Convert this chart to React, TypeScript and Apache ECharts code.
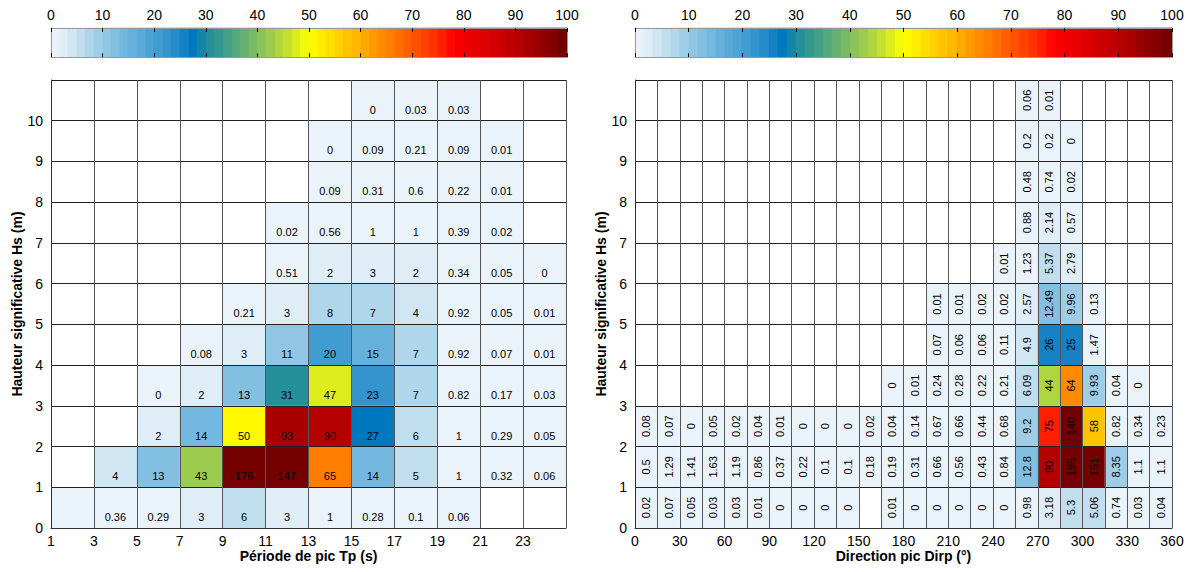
import React, { useEffect, useRef } from "react";
import * as echarts from "echarts";

const _ = null;

// ---------- bins ----------
const tpStarts = [1, 3, 5, 7, 9, 11, 13, 15, 17, 19, 21, 23];
const tpWidth = 2;
const dirStarts = [0, 15, 30, 45, 60, 75, 90, 105, 120, 135, 150, 165, 180, 195, 210, 225, 240, 255, 270, 285, 300, 315, 330, 345];
const dirWidth = 15;
const hsStarts = [0, 1, 2, 3, 4, 5, 6, 7, 8, 9, 10];
const colorbarTicks = [0, 10, 20, 30, 40, 50, 60, 70, 80, 90, 100];

// ---------- data: rows = Hs bins (0-1 first), columns = Tp bins ----------
const tpHsValues: (number | null)[][] = [
  [0.01, 0.36, 0.29, 3, 6, 3, 1, 0.28, 0.1, 0.06, _, _],
  [_, 4, 13, 43, 176, 147, 65, 14, 5, 1, 0.32, 0.06],
  [_, _, 2, 14, 50, 93, 90, 27, 6, 1, 0.29, 0.05],
  [_, _, 0, 2, 13, 31, 47, 23, 7, 0.82, 0.17, 0.03],
  [_, _, _, 0.08, 3, 11, 20, 15, 7, 0.92, 0.07, 0.01],
  [_, _, _, _, 0.21, 3, 8, 7, 4, 0.92, 0.05, 0.01],
  [_, _, _, _, _, 0.51, 2, 3, 2, 0.34, 0.05, 0],
  [_, _, _, _, _, 0.02, 0.56, 1, 1, 0.39, 0.02, _],
  [_, _, _, _, _, _, 0.09, 0.31, 0.6, 0.22, 0.01, _],
  [_, _, _, _, _, _, 0, 0.09, 0.21, 0.09, 0.01, _],
  [_, _, _, _, _, _, _, 0, 0.03, 0.03, _, _],
];
// cells drawn without a printed value: [column, row]
const tpUnlabeled = [[0, 0]];

// rows = Hs bins, columns = direction bins
const dirHsValues: (number | null)[][] = [
  [0.02, 0.07, 0.05, 0.03, 0.03, 0.01, 0, 0, 0, 0, _, 0.01, 0, 0, 0, 0, 0, 0.98, 3.18, 5.3, 5.06, 0.74, 0.03, 0.04],
  [0.5, 1.29, 1.41, 1.63, 1.19, 0.86, 0.37, 0.22, 0.1, 0.1, 0.18, 0.19, 0.31, 0.66, 0.56, 0.43, 0.84, 12.8, 90, 195, 151, 8.35, 1.1, 1.1],
  [0.08, 0.07, 0, 0.05, 0.02, 0.04, 0.01, 0, 0, 0, 0.02, 0.04, 0.14, 0.67, 0.66, 0.44, 0.68, 9.2, 75, 140, 58, 0.82, 0.34, 0.23],
  [_, _, _, _, _, _, _, _, _, _, _, 0, 0.01, 0.24, 0.28, 0.22, 0.21, 6.09, 44, 64, 9.93, 0.04, 0, _],
  [_, _, _, _, _, _, _, _, _, _, _, _, _, 0.07, 0.06, 0.06, 0.11, 4.9, 26, 25, 1.47, _, _, _],
  [_, _, _, _, _, _, _, _, _, _, _, _, _, 0.01, 0.01, 0.02, 0.02, 2.57, 12.49, 9.96, 0.13, _, _, _],
  [_, _, _, _, _, _, _, _, _, _, _, _, _, _, _, _, 0.01, 1.23, 5.37, 2.79, _, _, _, _],
  [_, _, _, _, _, _, _, _, _, _, _, _, _, _, _, _, _, 0.88, 2.14, 0.57, _, _, _, _],
  [_, _, _, _, _, _, _, _, _, _, _, _, _, _, _, _, _, 0.48, 0.74, 0.02, _, _, _, _],
  [_, _, _, _, _, _, _, _, _, _, _, _, _, _, _, _, _, 0.2, 0.2, 0, _, _, _, _],
  [_, _, _, _, _, _, _, _, _, _, _, _, _, _, _, _, _, 0.06, 0.01, _, _, _, _, _],
];
const dirUnlabeled: number[][] = [];

// ---------- colour map ----------
const cmapStops: [number, string][] = [
  [0, "#eff6fa"],
  [2, "#e2eff7"],
  [5, "#c9e2f0"],
  [10, "#97c9e5"],
  [15, "#6cb4dd"],
  [20, "#48a0d3"],
  [25, "#1e87c8"],
  [27.5, "#0078c0"],
  [30, "#1d8c9e"],
  [35, "#4aa384"],
  [40, "#80bf60"],
  [45, "#b8d93a"],
  [50, "#ffff00"],
  [55, "#ffd800"],
  [60, "#ffb000"],
  [65, "#ff8500"],
  [70, "#ff5800"],
  [75, "#ff2a00"],
  [78, "#ff0000"],
  [85, "#d80000"],
  [90, "#bb0000"],
  [100, "#6e0000"],
];
const cmapLevels = 60;

function hexToRgb(h: string) {
  const n = parseInt(h.slice(1), 16);
  return [(n >> 16) & 255, (n >> 8) & 255, n & 255];
}
function interpColor(v: number) {
  if (v <= cmapStops[0][0]) return cmapStops[0][1];
  for (let i = 1; i < cmapStops.length; i++) {
    if (v <= cmapStops[i][0]) {
      const [v0, c0] = cmapStops[i - 1];
      const [v1, c1] = cmapStops[i];
      const t = (v - v0) / (v1 - v0);
      const a = hexToRgb(c0);
      const b = hexToRgb(c1);
      const m = a.map((x, k) => Math.round(x + (b[k] - x) * t));
      return `rgb(${m[0]},${m[1]},${m[2]})`;
    }
  }
  return cmapStops[cmapStops.length - 1][1];
}
function levelColor(v: number) {
  const idx = Math.max(0, Math.min(cmapLevels - 1, Math.floor((v / 100) * cmapLevels)));
  return interpColor(((idx + 0.5) * 100) / cmapLevels);
}

const FONT = '"Liberation Sans", Arial, Helvetica, sans-serif';

type Cell = { x0: number; y0: number; w: number; v: number; label: string };

function buildCells(values: (number | null)[][], starts: number[], width: number, unlabeled: number[][]): Cell[] {
  const cells: Cell[] = [];
  values.forEach((row, r) =>
    row.forEach((v, c) => {
      if (v === null) return;
      const hide = unlabeled.some(([cc, rr]) => cc === c && rr === r);
      cells.push({ x0: starts[c], y0: hsStarts[r], w: width, v, label: hide ? "" : String(v) });
    })
  );
  return cells;
}

function heatSeries(cells: Cell[], idx: number, rotated: boolean, labelPos: number) {
  return {
    type: "custom",
    xAxisIndex: idx,
    yAxisIndex: idx,
    z: 2,
    data: cells.map((c) => [c.x0, c.y0, c.v, c.w]),
    encode: { x: 0, y: 1 },
    renderItem: (params: any, api: any) => {
      const x0 = api.value(0);
      const y0 = api.value(1);
      const v = api.value(2);
      const w = api.value(3);
      const label = cells[params.dataIndex].label;
      const tl = api.coord([x0, y0 + 1]);
      const br = api.coord([x0 + w, y0]);
      const children: any[] = [
        {
          type: "rect",
          shape: { x: tl[0], y: tl[1], width: br[0] - tl[0], height: br[1] - tl[1] },
          style: { fill: levelColor(v), stroke: null },
        },
      ];
      if (label) {
        const p = api.coord([x0 + w / 2, y0 + labelPos]);
        children.push({
          type: "text",
          x: p[0],
          y: p[1],
          rotation: rotated ? Math.PI / 2 : 0,
          style: {
            text: label,
            fill: "#000",
            fontSize: 11,
            fontFamily: FONT,
            align: "center",
            verticalAlign: "middle",
          },
        });
      }
      return { type: "group", children };
    },
  };
}

function colorbarSeries(idx: number) {
  const step = 100 / cmapLevels;
  const bands = Array.from({ length: cmapLevels }, (_u, i) => [i * step, (i + 1) * step]);
  return {
    type: "custom",
    xAxisIndex: idx,
    yAxisIndex: idx,
    z: 2,
    data: bands,
    encode: { x: 0 },
    renderItem: (_p: any, api: any) => {
      const a = api.coord([api.value(0), 1]);
      const b = api.coord([api.value(1), 0]);
      const xa = Math.round(a[0]);
      const xb = Math.round(b[0]);
      const col = levelColor(api.value(0) + step / 2);
      return {
        type: "rect",
        shape: { x: xa, y: a[1], width: xb - xa, height: b[1] - a[1] },
        style: { fill: col, stroke: col, lineWidth: 0.6 },
      };
    },
  };
}

const axisTextStyle = { color: "#000", fontSize: 14, fontFamily: FONT };
const nameStyle = { color: "#000", fontSize: 14, fontWeight: "bold" as const, fontFamily: FONT };

export default function App() {
  const ref = useRef<HTMLDivElement>(null);
  useEffect(() => {
    if (!ref.current) return;
    const chart = echarts.init(ref.current, undefined, { renderer: "svg" });
    const leftCells = buildCells(tpHsValues, tpStarts, tpWidth, tpUnlabeled);
    const rightCells = buildCells(dirHsValues, dirStarts, dirWidth, dirUnlabeled);

    const mainX = (grid: number, min: number, max: number, interval: number, name: string, fmt: (v: number) => string, showMax: boolean) => ({
      type: "value",
      gridIndex: grid,
      min,
      max,
      interval,
      position: "bottom",
      z: 10,
      name,
      nameLocation: "middle",
      nameGap: 21,
      nameMoveOverlap: false,
      nameTextStyle: nameStyle,
      axisLine: { show: true, onZero: false, lineStyle: { color: "#333", width: 1 } },
      axisTick: { show: false },
      axisLabel: { ...axisTextStyle, margin: 6, formatter: fmt, showMaxLabel: showMax, showMinLabel: true },
      splitLine: { show: true, lineStyle: { color: "#555", width: 1 } },
    });
    const mainY = (grid: number, nameGap: number) => ({
      type: "value",
      gridIndex: grid,
      min: 0,
      max: 11,
      interval: 1,
      z: 10,
      name: "Hauteur significative Hs (m)",
      nameLocation: "middle",
      nameGap,
      nameTextStyle: nameStyle,
      axisLine: { show: true, onZero: false, lineStyle: { color: "#333", width: 1 } },
      axisTick: { show: false },
      axisLabel: { ...axisTextStyle, margin: 8, showMaxLabel: false, showMinLabel: true },
      splitLine: { show: true, lineStyle: { color: "#222", width: 1 } },
    });
    const cbTop = (grid: number) => ({
      type: "value",
      gridIndex: grid,
      min: colorbarTicks[0],
      max: colorbarTicks[colorbarTicks.length - 1],
      interval: colorbarTicks[1] - colorbarTicks[0],
      position: "top",
      z: 10,
      axisLine: { show: true, onZero: false, lineStyle: { color: "#999", width: 1 } },
      axisTick: { show: true, inside: true, length: 4, lineStyle: { color: "#000" } },
      axisLabel: { ...axisTextStyle, margin: 6, showMinLabel: true, showMaxLabel: true },
      splitLine: { show: false },
    });
    const cbBottom = (grid: number) => ({
      type: "value",
      gridIndex: grid,
      min: colorbarTicks[0],
      max: colorbarTicks[colorbarTicks.length - 1],
      interval: colorbarTicks[1] - colorbarTicks[0],
      position: "bottom",
      z: 10,
      axisLine: { show: true, onZero: false, lineStyle: { color: "#999", width: 1 } },
      axisTick: { show: true, inside: true, length: 4, lineStyle: { color: "#000" } },
      axisLabel: { show: false },
      splitLine: { show: false },
    });
    const cbY = (grid: number, pos: string) => ({
      type: "value",
      gridIndex: grid,
      min: 0,
      max: 1,
      position: pos,
      z: 10,
      axisLine: { show: true, onZero: false, lineStyle: { color: "#999", width: 1 } },
      axisTick: { show: false },
      axisLabel: { show: false },
      splitLine: { show: false },
    });

    chart.setOption({
      animation: false,
      backgroundColor: "#fff",
      textStyle: { fontFamily: FONT },
      grid: [
        { left: 51, top: 80, width: 515, height: 448 },
        { left: 635, top: 80, width: 537, height: 448 },
        { left: 51, top: 28, width: 516, height: 29 },
        { left: 635, top: 28, width: 537, height: 29 },
      ],
      xAxis: [
        mainX(0, 1, 25, 2, "Période de pic Tp (s)", (v: number) => String(v), false),
        mainX(1, 0, 360, 15, "Direction pic Dirp (°)", (v: number) => (v % 30 === 0 ? String(v) : ""), true),
        cbTop(2),
        cbBottom(2),
        cbTop(3),
        cbBottom(3),
      ],
      yAxis: [mainY(0, 26), mainY(1, 26), cbY(2, "left"), cbY(2, "right"), cbY(3, "left"), cbY(3, "right")],
      series: [
        heatSeries(leftCells, 0, false, 0.27),
        heatSeries(rightCells, 1, true, 0.5),
        { ...colorbarSeries(2), xAxisIndex: 2, yAxisIndex: 2 },
        { ...colorbarSeries(4), xAxisIndex: 4, yAxisIndex: 4 },
      ],
    });
    return () => chart.dispose();
  }, []);
  return <div ref={ref} style={{ position: "absolute", left: 0, top: 0, width: 1192, height: 572 }} />;
}
